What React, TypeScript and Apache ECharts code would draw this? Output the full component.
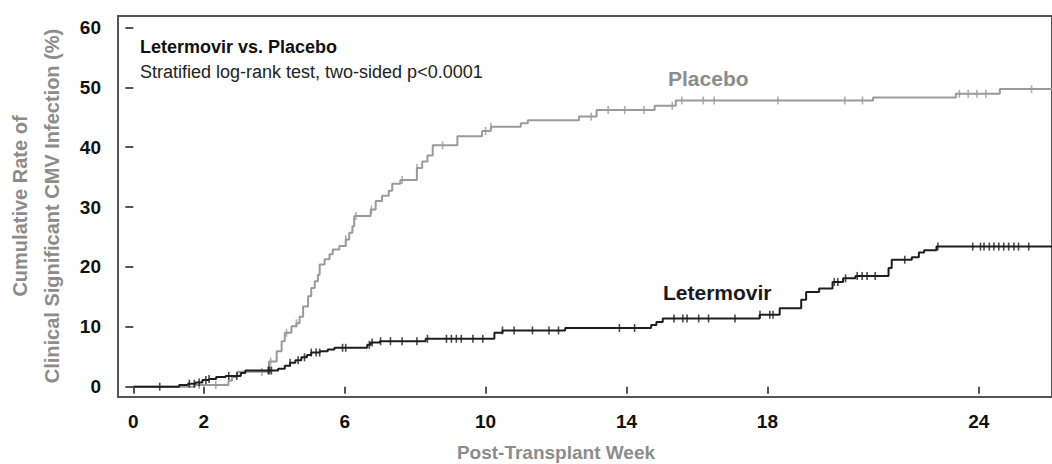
import React, { useEffect, useRef } from "react";
import * as echarts from "echarts";

// ---- Data ----
const placeboWeeks = [0, 1.75, 2.7, 2.8, 2.95, 3.85, 4.07, 4.21, 4.3, 4.49, 4.63, 4.72, 4.82, 4.96, 5.05, 5.15, 5.24, 5.29, 5.43, 5.57, 5.66, 5.85, 6.03, 6.13, 6.22, 6.27, 6.74, 6.88, 7.06, 7.25, 7.35, 7.58, 8.05, 8.2, 8.35, 8.5, 9.2, 9.9, 10.15, 11.0, 11.2, 12.65, 13.15, 14.8, 15.4, 21.0, 23.35, 24.6];
const placeboRates = [0, 0.3, 1.0, 1.6, 2.5, 4.2, 5.9, 7.6, 9.0, 10.1, 10.6, 11.7, 13.4, 15.1, 16.5, 17.6, 18.7, 20.4, 21.3, 22.1, 22.9, 23.5, 24.6, 25.7, 26.8, 28.5, 29.6, 31.0, 31.9, 32.7, 33.9, 34.5, 36.5, 37.6, 38.6, 40.3, 41.8, 42.7, 43.4, 44.0, 44.5, 45.1, 46.2, 46.9, 47.8, 48.3, 48.9, 49.7];
const placeboCensorWeeks = [1.87, 2.34, 3.65, 3.9, 4.35, 4.63, 6.03, 6.32, 6.76, 7.63, 8.05, 8.78, 10.0, 10.15, 13.0, 13.48, 13.95, 14.5, 15.3, 15.57, 16.18, 16.49, 18.3, 20.2, 20.7, 23.45, 23.7, 23.95, 24.2, 25.5];

const letermovirWeeks = [0, 1.3, 1.55, 1.77, 1.96, 2.15, 2.35, 2.62, 3.05, 3.18, 4.11, 4.3, 4.45, 4.6, 4.77, 4.93, 5.05, 5.3, 5.52, 5.71, 6.64, 6.74, 7.0, 8.3, 10.25, 10.48, 12.26, 14.7, 14.85, 15.03, 17.78, 18.35, 18.96, 19.1, 19.47, 19.85, 20.15, 20.5, 21.44, 21.53, 22.1, 22.3, 22.45, 22.8];
const letermovirRates = [0, 0.3, 0.5, 0.7, 1.1, 1.3, 1.6, 1.8, 2.3, 2.7, 3.0, 3.5, 4.0, 4.4, 4.9, 5.3, 5.7, 5.9, 6.2, 6.5, 7.0, 7.4, 7.6, 8.0, 9.0, 9.4, 9.8, 10.3, 10.8, 11.4, 12.0, 13.1, 14.5, 15.8, 16.4, 17.5, 18.1, 18.5, 19.8, 21.2, 21.6, 22.4, 22.8, 23.4];
const letermovirCensorWeeks = [0.75, 1.59, 1.73, 1.87, 2.06, 2.15, 2.71, 2.94, 3.83, 3.87, 3.92, 4.45, 4.68, 4.86, 5.05, 5.19, 5.29, 5.94, 6.03, 6.7, 6.78, 7.02, 7.3, 7.63, 8.05, 8.35, 8.89, 9.03, 9.17, 9.31, 9.64, 9.92, 10.48, 10.81, 11.33, 11.8, 12.07, 13.8, 14.23, 15.35, 15.6, 15.72, 16.05, 16.33, 17.08, 17.79, 18.07, 18.16, 19.9, 20.0, 20.22, 20.55, 20.69, 20.83, 21.06, 21.9, 22.84, 23.83, 24.05, 24.15, 24.3, 24.43, 24.57, 24.71, 24.85, 25.0, 25.13, 25.42];

const followUpEnd = 26.2;
const xTickValues = [0, 2, 6, 10, 14, 18, 24];
const yTickValues = [0, 10, 20, 30, 40, 50, 60];

const FONT = "'Liberation Sans', Arial, Helvetica, sans-serif";
const PLACEBO_COLOR = "#9a9a9a";
const LETER_COLOR = "#1e1e1e";
const TITLE_GRAY = "#8c8c8c";

function stepSeries(weeks: number[], rates: number[]) {
  const pts = weeks.map((w, i) => [w, rates[i]]);
  pts.push([followUpEnd, rates[rates.length - 1]]);
  return pts;
}

function rateAt(weeks: number[], rates: number[], w: number) {
  let v = rates[0];
  for (let i = 0; i < weeks.length; i++) {
    if (weeks[i] <= w) v = rates[i];
  }
  return v;
}

export default function App() {
  const ref = useRef<HTMLDivElement>(null);
  useEffect(() => {
    if (!ref.current) return;
    const chart = echarts.init(ref.current, null, { renderer: "svg" });
    const option: any = {
      animation: false,
      backgroundColor: "#ffffff",
      grid: {
        left: 118,
        top: 16,
        right: -10,
        bottom: 67,
        show: true,
        borderColor: "#555",
        borderWidth: 2,
        backgroundColor: "transparent",
      },
      xAxis: {
        type: "value",
        min: -0.435,
        max: 26.08,
        axisLine: { show: false },
        splitLine: { show: false },
        axisTick: {
          show: true,
          customValues: xTickValues,
          length: 7,
          lineStyle: { color: "#555", width: 2 },
        },
        axisLabel: {
          customValues: xTickValues,
          margin: 15,
          color: "#111",
          fontSize: 19,
          fontWeight: "bold",
          fontFamily: FONT,
        },
      },
      yAxis: {
        type: "value",
        min: -1.72,
        max: 61.9,
        axisLine: { show: false },
        splitLine: { show: false },
        axisTick: {
          show: true,
          customValues: yTickValues,
          length: 8,
          lineStyle: { color: "#555", width: 2 },
        },
        axisLabel: {
          customValues: yTickValues,
          margin: 17,
          color: "#111",
          fontSize: 19,
          fontWeight: "bold",
          fontFamily: FONT,
        },
      },
      series: [
        {
          name: "Placebo",
          type: "line",
          step: "end",
          showSymbol: false,
          data: stepSeries(placeboWeeks, placeboRates),
          lineStyle: { color: PLACEBO_COLOR, width: 2 },
          itemStyle: { color: PLACEBO_COLOR },
          z: 2,
        },
        {
          name: "Placebo censored",
          type: "scatter",
          symbol: "rect",
          symbolSize: [1.6, 8],
          data: placeboCensorWeeks.map((w) => [w, rateAt(placeboWeeks, placeboRates, w)]),
          itemStyle: { color: PLACEBO_COLOR },
          z: 2,
        },
        {
          name: "Letermovir",
          type: "line",
          step: "end",
          showSymbol: false,
          data: stepSeries(letermovirWeeks, letermovirRates),
          lineStyle: { color: LETER_COLOR, width: 2 },
          itemStyle: { color: LETER_COLOR },
          z: 3,
        },
        {
          name: "Letermovir censored",
          type: "scatter",
          symbol: "rect",
          symbolSize: [1.6, 8],
          data: letermovirCensorWeeks.map((w) => [w, rateAt(letermovirWeeks, letermovirRates, w)]),
          itemStyle: { color: LETER_COLOR },
          z: 3,
        },
      ],
      graphic: [
        {
          type: "text",
          x: 140,
          y: 47,
          style: {
            text: "Letermovir vs. Placebo",
            fill: "#111",
            font: `bold 18px ${FONT}`,
            textAlign: "left",
            textVerticalAlign: "middle",
          },
        },
        {
          type: "text",
          x: 140,
          y: 72,
          style: {
            text: "Stratified log-rank test, two-sided p<0.0001",
            fill: "#222",
            font: `18px ${FONT}`,
            textAlign: "left",
            textVerticalAlign: "middle",
          },
        },
        {
          type: "text",
          x: 668,
          y: 78,
          style: {
            text: "Placebo",
            fill: TITLE_GRAY,
            font: `bold 21px ${FONT}`,
            textAlign: "left",
            textVerticalAlign: "middle",
          },
        },
        {
          type: "text",
          x: 663,
          y: 292,
          style: {
            text: "Letermovir",
            fill: "#1a1a1a",
            font: `bold 21px ${FONT}`,
            textAlign: "left",
            textVerticalAlign: "middle",
          },
        },
        {
          type: "text",
          x: 20,
          y: 206,
          rotation: Math.PI / 2,
          style: {
            text: "Cumulative Rate of",
            fill: TITLE_GRAY,
            font: `bold 20px ${FONT}`,
            textAlign: "center",
            textVerticalAlign: "middle",
          },
        },
        {
          type: "text",
          x: 52,
          y: 206,
          rotation: Math.PI / 2,
          style: {
            text: "Clinical Significant CMV Infection (%)",
            fill: TITLE_GRAY,
            font: `bold 20px ${FONT}`,
            textAlign: "center",
            textVerticalAlign: "middle",
          },
        },
        {
          type: "text",
          x: 556,
          y: 452,
          style: {
            text: "Post-Transplant Week",
            fill: TITLE_GRAY,
            font: `bold 19px ${FONT}`,
            textAlign: "center",
            textVerticalAlign: "middle",
          },
        },
      ],
    };
    chart.setOption(option);
    return () => chart.dispose();
  }, []);
  return (
    <div
      ref={ref}
      style={{ position: "fixed", left: 0, top: 0, width: 1052, height: 464, background: "#fff" }}
    />
  );
}
